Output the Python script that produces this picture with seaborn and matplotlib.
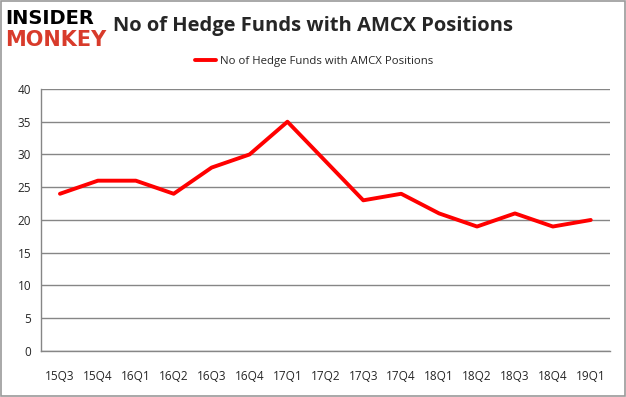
import matplotlib

matplotlib.use("Agg")
import matplotlib.pyplot as plt
import pandas as pd
import seaborn as sns
from matplotlib.patches import Rectangle

quarters = ["15Q3", "15Q4", "16Q1", "16Q2", "16Q3", "16Q4", "17Q1", "17Q2",
            "17Q3", "17Q4", "18Q1", "18Q2", "18Q3", "18Q4", "19Q1"]
funds = [24, 26, 26, 24, 28, 30, 35, 29, 23, 24, 21, 19, 21, 19, 20]
series_name = "No of Hedge Funds with AMCX Positions"

df = pd.DataFrame({"quarter": quarters, "funds": funds, "pos": range(len(quarters))})

sns.set_theme(style="white")
plt.rcParams["font.family"] = ["Open Sans", "DejaVu Sans"]

fig = plt.figure(figsize=(6.26, 3.97), dpi=100)
ax = fig.add_axes([0.0655, 0.1159, 0.9085, 0.66])

sns.lineplot(data=df, x="pos", y="funds", color="#ff0000", linewidth=2.8,
             label=series_name, ax=ax, legend=False)

ax.set_xlim(-0.5, len(quarters) - 0.5)
ax.set_ylim(0, 40)
ax.set_yticks(range(0, 41, 5))
ax.set_xticks(range(len(quarters)))
ax.set_xticklabels(quarters)
ax.set_xticks([i - 0.5 for i in range(len(quarters) + 1)], minor=True)
ax.tick_params(axis="x", which="major", length=0, pad=14, labelsize=8.5)
ax.tick_params(axis="x", which="minor", length=4, color="#868686", width=1, direction="out")
ax.tick_params(axis="y", length=4, color="#868686", width=1, labelsize=8.5, pad=3)
ax.grid(axis="y", color="#868686", linewidth=1)
ax.set_axisbelow(True)
for side in ["top", "right"]:
    ax.spines[side].set_visible(False)
for side in ["left", "bottom"]:
    ax.spines[side].set_color("#868686")
    ax.spines[side].set_linewidth(1)
ax.set_xlabel("")
ax.set_ylabel("")

# legend
fig.legend(handles=ax.get_lines()[:1], labels=[series_name], loc="center",
           bbox_to_anchor=(0.502, 0.844), frameon=False, fontsize=8.2,
           handlelength=1.8, handletextpad=0.4)

# title and logo
fig.text(0.18, 0.935, series_name, fontsize=14.5, fontweight="bold", va="center",
         ha="left", family=["Open Sans", "DejaVu Sans"])
fig.text(0.008, 0.953, "INSIDER", fontsize=14, fontweight="heavy", color="black",
         va="center", ha="left", family=["DejaVu Sans"])
fig.text(0.008, 0.9, "MONKEY", fontsize=15, fontweight="heavy", color="#d83b2b",
         va="center", ha="left", family=["DejaVu Sans"])

fig.patches.append(Rectangle((0.001, 0.002), 0.997, 0.995, transform=fig.transFigure,
                             fill=False, edgecolor="#9a9a9a", linewidth=1.2))

fig.savefig("out.png", dpi=100)
